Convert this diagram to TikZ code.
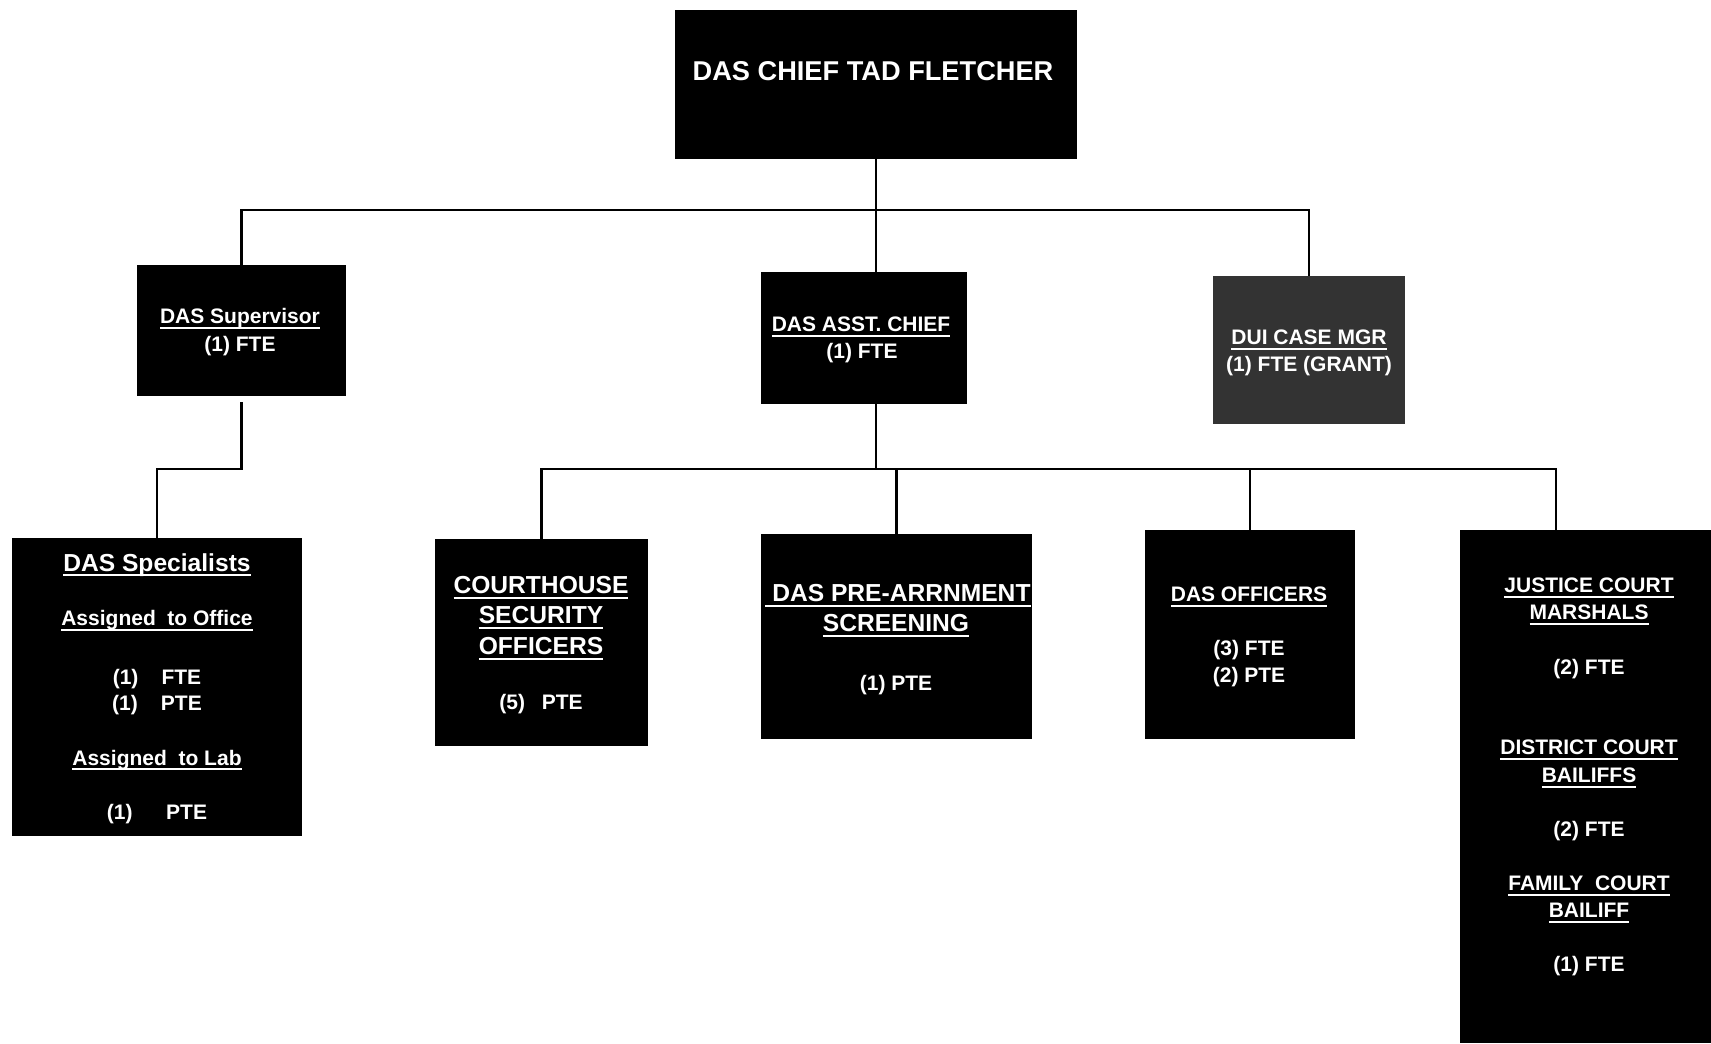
\documentclass[tikz,border=0pt]{standalone}
\usepackage{fontspec}
\setmainfont{Liberation Sans}
% underline set a little below the descenders, as in the chart titles
\newcommand\ulin[1]{\setbox0=\hbox{#1}\leavevmode\rlap{\rule[-2.6pt]{\wd0}{0.9pt}}\box0}
\begin{document}
\begin{tikzpicture}[x=0.5pt,y=-0.5pt,
  orgbox/.style={rectangle, fill=black, draw=none, inner sep=0, outer sep=0, anchor=north west},
  txt/.style={text=white, inner sep=0, anchor=base, font=\bfseries\fontsize{10.5}{12}\selectfont},
  bigtxt/.style={txt, font=\bfseries\fontsize{12.3}{14}\selectfont},
  conn/.style={draw=black, line width=1.4pt}]
\useasboundingbox (0,0) rectangle (1711,1043);
\fill[white] (0,0) rectangle (1711,1043);

% boxes
\node[orgbox, minimum width=201pt, minimum height=74.5pt] (chief) at (675,10) {};
\node[orgbox, minimum width=104.5pt, minimum height=65.5pt] (sup) at (137,265) {};
\node[orgbox, minimum width=103pt, minimum height=66pt] (asst) at (761,272) {};
\node[orgbox, minimum width=96pt, minimum height=74pt, fill=black!80] (dui) at (1213,276) {};
\node[orgbox, minimum width=145pt, minimum height=149pt] (spec) at (12,538) {};
\node[orgbox, minimum width=106.5pt, minimum height=103.5pt] (court) at (435,539) {};
\node[orgbox, minimum width=135.5pt, minimum height=102.5pt] (pre) at (761,534) {};
\node[orgbox, minimum width=105pt, minimum height=104.5pt] (off) at (1145,530) {};
\node[orgbox, minimum width=125.5pt, minimum height=256.5pt] (just) at (1460,530) {};

% rows of the connector tree
\coordinate (bar1) at (0,210);
\coordinate (bar2) at (0,469);
\coordinate (jtop) at ([xshift=48pt]just.north west);

\draw[conn] (sup.north) -- (sup.north |- bar1) -- (dui.north |- bar1) -- (dui.north);
\draw[conn] (chief.south) -- (chief.south |- asst.north);
\draw[conn] ([yshift=-3pt]sup.south) -- (sup.south |- bar2) -| (spec.north);
\draw[conn] (chief.south |- asst.south) -- (chief.south |- bar2);
\draw[conn] (court.north) -- (court.north |- bar2) -- (jtop |- bar2) -- (jtop);
\draw[conn] (pre.north) -- (pre.north |- bar2);
\draw[conn] (off.north) -- (off.north |- bar2);

% texts
\node[bigtxt, font=\bfseries\fontsize{13.6}{15}\selectfont] (chiefT) at (873,81) {DAS CHIEF TAD FLETCHER};

\node[txt] (supT1) at (240,323.5) {\ulin{DAS\ Supervisor}};
\node[txt] (supT2) at (240,351.5) {(1) FTE};

\node[txt] (asstT1) at (861,331.5) {\ulin{DAS ASST. CHIEF}};
\node[txt] (asstT2) at (862,358.5) {(1) FTE};

\node[txt] (duiT1) at (1309,344.5) {\ulin{DUI CASE MGR}};
\node[txt] (duiT2) at (1309,371.5) {(1) FTE (GRANT)};

\node[bigtxt] (specT1) at (157,571) {\ulin{DAS Specialists}};
\node[txt] (specT2) at (157,625.5) {\ulin{Assigned\ \ to Office}};
\node[txt] (specT3) at (157,684.5) {(1)\hspace{1.1em}FTE};
\node[txt] (specT4) at (157,710.5) {(1)\hspace{1.1em}PTE};
\node[txt] (specT5) at (157,765) {\ulin{Assigned\ \ to Lab}};
\node[txt] (specT6) at (157,819.5) {(1)\hspace{1.6em}PTE};

\node[bigtxt] (courtT1) at (541,593.8) {\ulin{COURTHOUSE}};
\node[bigtxt] (courtT2) at (541,623.8) {\ulin{SECURITY}};
\node[bigtxt] (courtT3) at (541,654.8) {\ulin{OFFICERS}};
\node[txt] (courtT4) at (541,709.5) {(5)\hspace{0.8em}PTE};

\node[bigtxt] (preT1) at (898,601.8) {\ulin{\ DAS PRE-ARRNMENT}};
\node[bigtxt] (preT2) at (896,631.8) {\ulin{SCREENING}};
\node[txt] (preT3) at (896,690.5) {(1) PTE};

\node[txt] (offT1) at (1249,601.5) {\ulin{DAS OFFICERS}};
\node[txt] (offT2) at (1249,655.5) {(3) FTE};
\node[txt] (offT3) at (1249,682.5) {(2) PTE};

\node[txt] (justT1) at (1589,592.5) {\ulin{JUSTICE COURT}};
\node[txt] (justT2) at (1589,619.5) {\ulin{MARSHALS}};
\node[txt] (justT3) at (1589,674.5) {(2) FTE};
\node[txt] (justT4) at (1589,754.5) {\ulin{DISTRICT COURT}};
\node[txt] (justT5) at (1589,782.5) {\ulin{BAILIFFS}};
\node[txt] (justT6) at (1589,836.5) {(2) FTE};
\node[txt] (justT7) at (1589,890.5) {\ulin{FAMILY\ \ COURT}};
\node[txt] (justT8) at (1589,917.5) {\ulin{BAILIFF}};
\node[txt] (justT9) at (1589,971.5) {(1) FTE};
\end{tikzpicture}
\end{document}
